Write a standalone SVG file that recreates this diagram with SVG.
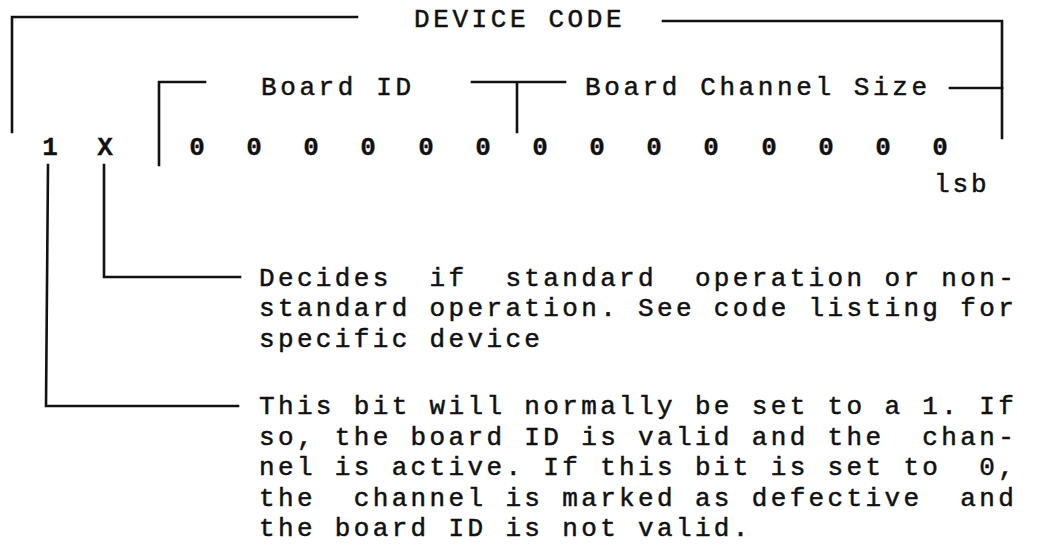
<svg xmlns="http://www.w3.org/2000/svg" width="1042" height="550" viewBox="0 0 1042 550">
<style>
.t{font-family:"Liberation Mono","DejaVu Sans Mono",monospace;font-size:26px;fill:#111;stroke:#111;stroke-width:0.5px;}
.h{letter-spacing:3.6px;}
.b{letter-spacing:3.35px;}
.bit{font-weight:bold;text-anchor:middle;stroke-width:0.3px;}
.ln{fill:none;stroke:#111;stroke-width:2.6;stroke-linecap:square;stroke-linejoin:miter;}
</style>
<rect width="1042" height="550" fill="#fff"/>
<g id="connectors">
<path class="ln" d="M12,132 L12,17 L357,17"/>
<path class="ln" d="M663,21 L1002,21 L1002,138"/>
<path class="ln" d="M159,165 L159,82 L205,82"/>
<path class="ln" d="M472,82 L565,82 M517,82 L517,132"/>
<path class="ln" d="M950,88 L1002,88"/>
<path class="ln" d="M104,165 L104,277 L240,277"/>
<path class="ln" d="M48,165 L46,406 L238,406"/>
</g>
<g id="device-code"><text class="t h" x="414" y="27">DEVICE CODE</text></g>
<g id="board-id"><text class="t h" x="261" y="95">Board ID</text></g>
<g id="board-channel-size"><text class="t h" x="585" y="95">Board Channel Size</text></g>
<g id="bits">
<text class="t bit" x="50" y="155">1</text>
<text class="t bit" x="105" y="155">X</text>
<text class="t bit" x="197" y="155">0</text>
<text class="t bit" x="254" y="155">0</text>
<text class="t bit" x="311" y="155">0</text>
<text class="t bit" x="368" y="155">0</text>
<text class="t bit" x="426" y="155">0</text>
<text class="t bit" x="483" y="155">0</text>
<text class="t bit" x="540" y="155">0</text>
<text class="t bit" x="597" y="155">0</text>
<text class="t bit" x="654" y="155">0</text>
<text class="t bit" x="711" y="155">0</text>
<text class="t bit" x="769" y="155">0</text>
<text class="t bit" x="826" y="155">0</text>
<text class="t bit" x="883" y="155">0</text>
<text class="t bit" x="940" y="155">0</text>
</g>
<g id="lsb"><text class="t" x="934" y="192" style="letter-spacing:2.9px">lsb</text></g>
<g id="note-x">
<text class="t b" x="259" y="285.5" xml:space="preserve">Decides  if  standard  operation or non-</text>
<text class="t b" x="259" y="316" xml:space="preserve">standard operation. See code listing for</text>
<text class="t b" x="259" y="346.5" xml:space="preserve">specific device</text>
</g>
<g id="note-1">
<text class="t b" x="259" y="414" xml:space="preserve">This bit will normally be set to a 1. If</text>
<text class="t b" x="259" y="444.5" xml:space="preserve">so, the board ID is valid and the  chan-</text>
<text class="t b" x="259" y="475" xml:space="preserve">nel is active. If this bit is set to  0,</text>
<text class="t b" x="259" y="505.5" xml:space="preserve">the  channel is marked as defective  and</text>
<text class="t b" x="259" y="536" xml:space="preserve">the board ID is not valid.</text>
</g>
</svg>
